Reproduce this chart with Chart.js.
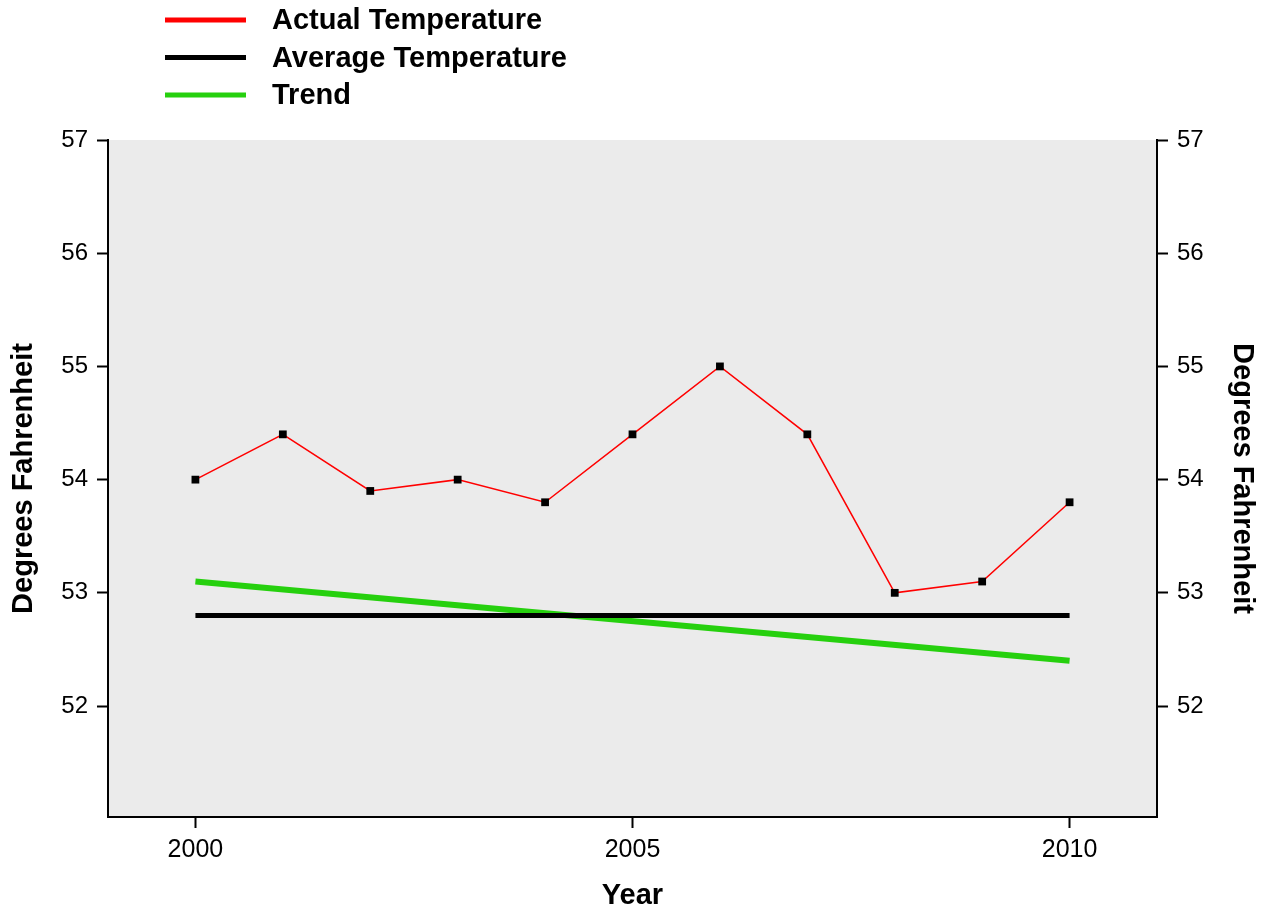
<!DOCTYPE html>
<html lang="en">
<head>
  <meta charset="UTF-8">
  <title>Temperature Trend</title>
  <script src="https://cdn.jsdelivr.net/npm/chart.js@4.4.0"></script>
  <style>
    body { margin: 0; background: #fff; }
    .wrap { width: 1266px; height: 909px; }
  </style>
</head>
<body>
  <div class="wrap"><canvas id="chart"></canvas></div>
  <script>
    const years = [2000, 2001, 2002, 2003, 2004, 2005, 2006, 2007, 2008, 2009, 2010];
    const actualTemp = [54.0, 54.4, 53.9, 54.0, 53.8, 54.4, 55.0, 54.4, 53.0, 53.1, 53.8];
    const avgYears = [2000, 2010];
    const avgTemp = [52.8, 52.8];
    const trendYears = [2000, 2010];
    const trendTemp = [53.1, 52.4];
    const yTicks = [52, 53, 54, 55, 56, 57];
    const xTicks = [2000, 2005, 2010];

    const FONT = "'Liberation Sans', Arial, sans-serif";

    // grey panel behind the plot
    const panelBg = {
      id: 'panelBg',
      beforeDraw(chart) {
        const a = chart.chartArea, ctx = chart.ctx;
        ctx.save();
        ctx.fillStyle = '#ebebeb';
        ctx.fillRect(a.left, a.top, a.right - a.left, a.bottom - a.top);
        ctx.restore();
      }
    };

    // stacked legend in the top-left corner
    const topLegend = {
      id: 'topLegend',
      afterDraw(chart) {
        const ctx = chart.ctx;
        ctx.save();
        ctx.font = 'bold 29px ' + FONT;
        ctx.textBaseline = 'middle';
        ctx.fillStyle = '#000';
        chart.data.datasets.forEach((ds, i) => {
          const y = 20 + i * 37.5;
          ctx.strokeStyle = ds.borderColor;
          ctx.lineWidth = 5;
          ctx.beginPath();
          ctx.moveTo(165, y);
          ctx.lineTo(246, y);
          ctx.stroke();
          ctx.fillText(ds.label, 272, y + 1);
        });
        ctx.restore();
      }
    };

    const toPts = (xs, ys) => xs.map((x, i) => ({ x: x, y: ys[i] }));

    const axisY = (pos, width) => ({
      type: 'linear',
      position: pos,
      min: 51.02,
      max: 57,
      afterBuildTicks: s => { s.ticks = yTicks.map(v => ({ value: v })); },
      afterFit: s => { s.width = width; },
      ticks: { color: '#000', font: { family: FONT, size: 24 }, padding: 9 },
      grid: { drawOnChartArea: false, tickLength: 11, tickColor: '#000', tickWidth: 2 },
      border: { display: true, color: '#000', width: 2 },
      title: { display: true, text: 'Degrees Fahrenheit', color: '#000', font: { family: FONT, size: 29, weight: 'bold' }, padding: { top: 7, bottom: 0 } }
    });

    new Chart(document.getElementById('chart'), {
      type: 'line',
      data: {
        datasets: [
          {
            label: 'Actual Temperature',
            data: toPts(years, actualTemp),
            borderColor: '#ff0000',
            borderWidth: 1.5,
            pointStyle: 'rect',
            pointRadius: 5.5,
            pointBackgroundColor: '#000',
            pointBorderColor: '#000',
            pointBorderWidth: 0,
            tension: 0
          },
          {
            label: 'Average Temperature',
            data: toPts(avgYears, avgTemp),
            borderColor: '#000',
            borderWidth: 5,
            pointRadius: 0
          },
          {
            label: 'Trend',
            data: toPts(trendYears, trendTemp),
            borderColor: '#26d00e',
            borderWidth: 6,
            pointRadius: 0
          }
        ]
      },
      options: {
        responsive: true,
        maintainAspectRatio: false,
        animation: false,
        layout: { padding: { top: 140, left: 0, right: 0, bottom: 0 } },
        plugins: {
          legend: { display: false },
          tooltip: { enabled: false }
        },
        scales: {
          x: {
            type: 'linear',
            min: 1999,
            max: 2011,
            afterBuildTicks: s => { s.ticks = xTicks.map(v => ({ value: v })); },
            afterFit: s => { s.height = 92; },
            ticks: { color: '#000', font: { family: FONT, size: 25 }, padding: 7, callback: v => String(v) },
            grid: { drawOnChartArea: false, tickLength: 11, tickColor: '#000', tickWidth: 2 },
            border: { display: true, color: '#000', width: 2 },
            title: { display: true, text: 'Year', color: '#000', font: { family: FONT, size: 29, weight: 'bold' }, padding: { top: 0, bottom: -4 } }
          },
          y: axisY('left', 108),
          y2: axisY('right', 109)
        }
      },
      plugins: [panelBg, topLegend]
    });
  </script>
</body>
</html>
